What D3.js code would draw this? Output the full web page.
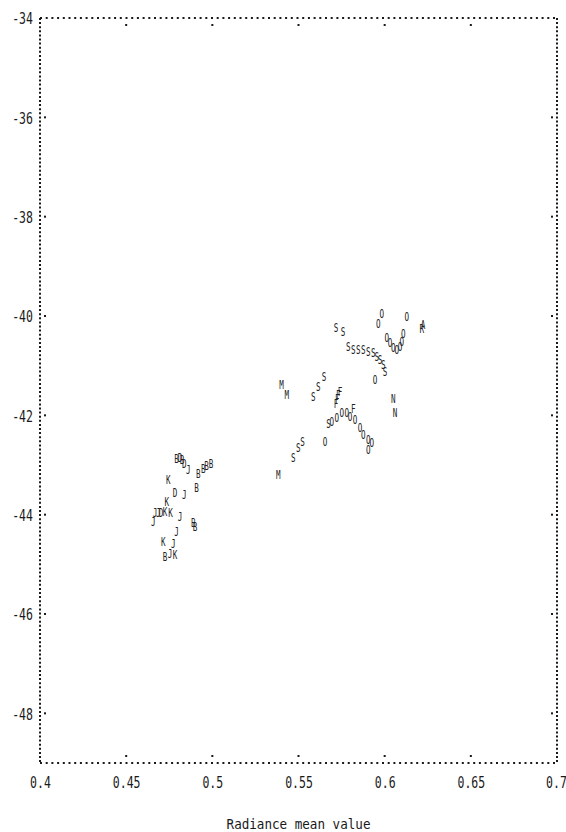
<!DOCTYPE html>
<html><head><meta charset="utf-8">
<script src="https://cdn.jsdelivr.net/npm/d3@7"></script>
<style>body{margin:0;background:#fff}svg{display:block}</style>
</head><body>
<script>
// Data: symbol label, radiance mean value, y value
const labels = ["B","D","B","D","J","B","B","B","B","K","D","J","B","K","J","J","D","K","K","J","J","B","B","J","K","J","B","J","K",
  "M","M","M","S","S","S","F","F","F","F","F","S","S","S","O","S","O","O","O","O","O","O","O","O","O","O","O","N","N","O",
  "O","O","O","R","A","O","O","O","O","O","O","O","S","S","S","S","S","S","S","S","S","S","S","S"];
const xValues = [0.4793,0.4812,0.4824,0.4837,0.4861,0.4919,0.4948,0.4967,0.4992,0.4744,0.4783,0.4837,0.4909,0.4735,0.4667,0.4686,0.4702,0.4725,0.4758,0.4657,0.4812,0.4890,0.4899,0.4793,0.4715,0.4773,0.4725,0.4754,0.4783,
  0.5402,0.5432,0.5383,0.5648,0.5615,0.5586,0.5741,0.5731,0.5725,0.5718,0.5818,0.5524,0.5499,0.5470,0.5654,0.5675,0.5693,0.5722,0.5751,0.5780,0.5799,0.5828,0.5857,0.5876,0.5905,0.5925,0.5905,0.6050,0.6060,0.5944,
  0.5983,0.5963,0.6128,0.6215,0.6222,0.6108,0.6012,0.6031,0.6050,0.6070,0.6089,0.6099,0.5718,0.5758,0.5789,0.5818,0.5847,0.5876,0.5905,0.5934,0.5954,0.5973,0.5992,0.6002];
const yValues = [-42.88,-42.86,-42.90,-42.97,-43.10,-43.17,-43.07,-43.01,-42.97,-43.30,-43.56,-43.60,-43.47,-43.74,-43.97,-43.96,-43.96,-43.94,-43.96,-44.14,-44.04,-44.17,-44.24,-44.34,-44.54,-44.58,-44.85,-44.78,-44.81,
  -41.39,-41.59,-43.20,-41.22,-41.42,-41.62,-41.52,-41.59,-41.66,-41.76,-41.86,-42.53,-42.66,-42.86,-42.53,-42.18,-42.13,-42.06,-41.96,-41.96,-42.03,-42.09,-42.26,-42.40,-42.50,-42.56,-42.70,-41.66,-41.96,-41.29,
  -39.95,-40.15,-40.01,-40.25,-40.18,-40.35,-40.45,-40.55,-40.65,-40.68,-40.62,-40.52,-40.24,-40.32,-40.62,-40.68,-40.68,-40.68,-40.72,-40.75,-40.82,-40.89,-40.99,-41.12];
const xTicks = [0.4,0.45,0.5,0.55,0.6,0.65,0.7];
const xTickLabels = ["0.4","0.45","0.5","0.55","0.6","0.65","0.7"];
const yTicks = [-34,-36,-38,-40,-42,-44,-46,-48];
const yTickLabels = ["-34","-36","-38","-40","-42","-44","-46","-48"];
const xTitle = "Radiance mean value";

(function(){
const W = 566, H = 832;
const mL = 40, mR = 557, mT = 18, mB = 763;
const x = d3.scaleLinear().domain([0.4, 0.7]).range([mL, mR]);
const y = d3.scaleLinear().domain([-49, -34]).range([mB, mT]);

const svg = d3.select("body").append("svg").attr("width", W).attr("height", H);
const ink = "#1a1a1a";
const font = "DejaVu Sans Mono";

// dotted frame
const frame = svg.append("g").attr("stroke", ink).attr("stroke-width", 2);
frame.append("line").attr("x1", mL).attr("x2", mR).attr("y1", mT).attr("y2", mT).attr("stroke-dasharray", "2,3.7");
frame.append("line").attr("x1", mL).attr("x2", mR).attr("y1", mB).attr("y2", mB).attr("stroke-dasharray", "2,3.7");
frame.append("line").attr("x1", mL).attr("x2", mL).attr("y1", mT).attr("y2", mB).attr("stroke-dasharray", "2,2.1");
frame.append("line").attr("x1", mR).attr("x2", mR).attr("y1", mT).attr("y2", mB).attr("stroke-dasharray", "2,2.1");

// inward tick dots
const tk = svg.append("g").attr("fill", ink);
xTicks.slice(1, -1).forEach(v => {
  tk.append("rect").attr("x", x(v) - 1).attr("y", mT + 6).attr("width", 2).attr("height", 2);
  tk.append("rect").attr("x", x(v) - 1).attr("y", mB - 8).attr("width", 2).attr("height", 2);
});
yTicks.slice(1).forEach(v => {
  tk.append("rect").attr("x", mL + 4).attr("y", y(v) - 1).attr("width", 2).attr("height", 2);
  tk.append("rect").attr("x", mR - 6).attr("y", y(v) - 1).attr("width", 2).attr("height", 2);
});

// axes (labels only, via d3 axis)
const xAxis = d3.axisBottom(x).tickValues(xTicks).tickFormat((d, i) => xTickLabels[i]).tickSize(0).tickPadding(0);
const gx = svg.append("g").attr("transform", `translate(0,${mB})`).call(xAxis);
gx.select(".domain").remove();
gx.selectAll(".tick text").attr("font-family", font).attr("font-size", 16).attr("fill", ink)
  .attr("dy", null).attr("y", 0).attr("x", 0)
  .attr("transform", (d, i) => `translate(${i === xTicks.length - 1 ? -1 : 0},25) scale(0.72,1)`);

const yAxis = d3.axisLeft(y).tickValues(yTicks).tickFormat((d, i) => yTickLabels[i]).tickSize(0).tickPadding(0);
const gy = svg.append("g").attr("transform", `translate(${mL},0)`).call(yAxis);
gy.select(".domain").remove();
gy.selectAll(".tick text").attr("font-family", font).attr("font-size", 16).attr("fill", ink)
  .attr("x", 0).attr("dy", "0.36em").attr("transform", "translate(-7,0) scale(0.72,1)");

// axis title
svg.append("text").attr("x", 0).attr("y", 0)
  .attr("transform", `translate(${(mL + mR) / 2},829) scale(0.9,1)`)
  .attr("text-anchor", "middle").attr("font-family", font).attr("font-size", 14).attr("fill", ink)
  .text(xTitle);

// point symbols
svg.append("g").selectAll("text").data(labels).join("text")
  .attr("transform", (d, i) => `translate(${x(xValues[i])},${y(yValues[i])}) scale(0.66,1)`)
  .attr("text-anchor", "middle").attr("dy", "0.36em")
  .attr("font-family", font).attr("font-size", 11.5).attr("fill", "#222")
  .text(d => d);
})();
</script>
</body></html>
